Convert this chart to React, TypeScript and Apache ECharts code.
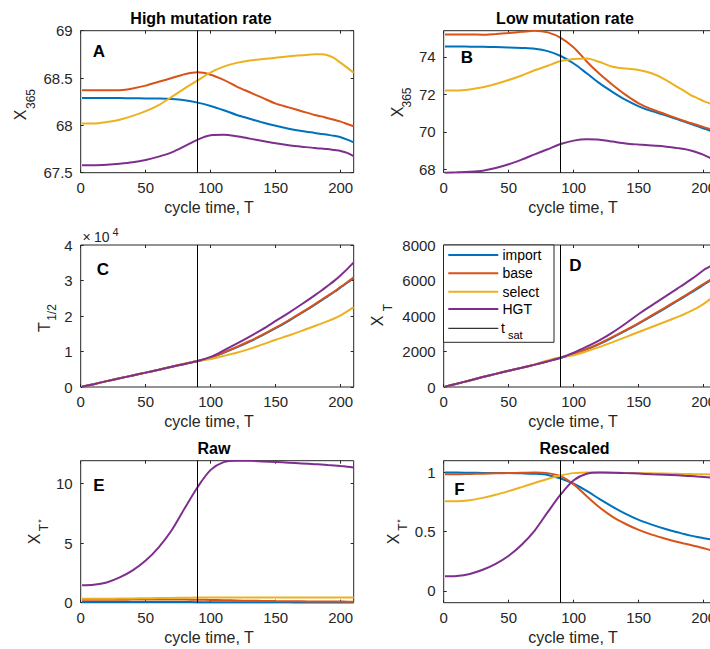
import React, { useEffect, useRef } from "react";
import * as echarts from "echarts";

// Sampling times (cycle time, T)
const T = [1, 10, 20, 30, 40, 50, 60, 70, 80, 90, 100, 110, 120, 130, 140, 150, 160, 170, 180, 185, 190, 195, 200, 205, 210];
const T_SAT = 90;

const NAMES = ["import", "base", "select", "HGT"];
const COLORS = ["#0072BD", "#D95319", "#EDB120", "#7E2F8E"];

// A: X_365, high mutation rate
const highImport = [68.29, 68.29, 68.29, 68.288, 68.287, 68.285, 68.283, 68.278, 68.265, 68.24, 68.205, 68.16, 68.11, 68.07, 68.03, 67.995, 67.965, 67.94, 67.92, 67.91, 67.9, 67.89, 67.875, 67.85, 67.82];
const highBase = [68.37, 68.37, 68.37, 68.372, 68.39, 68.42, 68.46, 68.5, 68.54, 68.56, 68.535, 68.48, 68.41, 68.35, 68.29, 68.23, 68.19, 68.15, 68.11, 68.095, 68.075, 68.06, 68.04, 68.015, 67.99];
const highSelect = [68.02, 68.02, 68.035, 68.06, 68.1, 68.15, 68.215, 68.3, 68.39, 68.475, 68.56, 68.62, 68.66, 68.685, 68.7, 68.715, 68.73, 68.74, 68.75, 68.75, 68.74, 68.71, 68.66, 68.61, 68.555];
const highHGT = [67.58, 67.58, 67.585, 67.595, 67.61, 67.635, 67.67, 67.715, 67.78, 67.85, 67.895, 67.9, 67.885, 67.86, 67.835, 67.81, 67.79, 67.775, 67.76, 67.755, 67.75, 67.74, 67.73, 67.71, 67.675];

// B: X_365, low mutation rate
const lowImport = [74.55, 74.55, 74.54, 74.53, 74.52, 74.5, 74.47, 74.43, 74.3, 74.04, 73.64, 73.12, 72.58, 72.12, 71.7, 71.36, 71.1, 70.9, 70.66, 70.54, 70.42, 70.3, 70.18, 70.06, 69.95];
const lowBase = [75.19, 75.19, 75.19, 75.18, 75.22, 75.27, 75.33, 75.39, 75.3, 75.01, 74.5, 73.75, 73.08, 72.5, 71.97, 71.52, 71.2, 70.95, 70.7, 70.58, 70.47, 70.36, 70.25, 70.15, 70.05];
const lowSelect = [72.2, 72.2, 72.26, 72.37, 72.55, 72.76, 73.0, 73.28, 73.52, 73.77, 73.88, 73.91, 73.72, 73.47, 73.37, 73.3, 73.12, 72.8, 72.38, 72.18, 71.96, 71.8, 71.64, 71.5, 71.38];
const lowHGT = [67.82, 67.84, 67.87, 67.93, 68.07, 68.27, 68.52, 68.8, 69.07, 69.35, 69.53, 69.6, 69.58, 69.48, 69.38, 69.32, 69.27, 69.22, 69.13, 69.08, 69.0, 68.9, 68.77, 68.6, 68.45];

// C: T_1/2
const halfImport = [80, 800, 1650, 2450, 3250, 4050, 4850, 5700, 6500, 7300, 8250, 9650, 11150, 12800, 14600, 16550, 18650, 20850, 23150, 24350, 25550, 26750, 28050, 29350, 30750];
const halfBase = [80, 800, 1650, 2450, 3250, 4050, 4850, 5700, 6500, 7300, 8300, 9750, 11300, 12950, 14750, 16700, 18800, 21000, 23300, 24500, 25700, 26900, 28200, 29500, 30900];
const halfSelect = [80, 800, 1650, 2450, 3250, 4050, 4850, 5720, 6650, 7350, 7900, 8750, 9650, 10750, 12000, 13300, 14500, 15800, 17200, 17850, 18550, 19300, 20200, 21300, 22500];
const halfHGT = [80, 800, 1650, 2450, 3250, 4050, 4850, 5700, 6500, 7300, 8500, 10300, 12200, 14200, 16300, 18600, 20900, 23300, 25800, 27100, 28500, 29900, 31500, 33200, 35100];

// D: X_T
const xtImport = [20, 180, 370, 560, 740, 910, 1080, 1260, 1450, 1650, 1840, 2120, 2430, 2790, 3170, 3570, 3990, 4420, 4860, 5080, 5300, 5530, 5760, 5990, 6220];
const xtBase = [20, 180, 370, 560, 740, 910, 1080, 1260, 1450, 1650, 1850, 2140, 2460, 2820, 3200, 3600, 4030, 4460, 4900, 5120, 5350, 5580, 5810, 6040, 6270];
const xtSelect = [20, 180, 370, 560, 740, 910, 1080, 1270, 1500, 1680, 1790, 2010, 2260, 2530, 2810, 3100, 3380, 3660, 3950, 4100, 4270, 4460, 4680, 4950, 5220];
const xtHGT = [20, 180, 370, 560, 740, 910, 1080, 1260, 1450, 1650, 1930, 2270, 2640, 3080, 3580, 4110, 4600, 5080, 5560, 5800, 6050, 6310, 6590, 6800, 7080];

// E: X_T*, raw
const rawImport = [0.05, 0.05, 0.05, 0.05, 0.05, 0.05, 0.05, 0.05, 0.049, 0.048, 0.045, 0.042, 0.039, 0.036, 0.033, 0.03, 0.028, 0.026, 0.025, 0.024, 0.023, 0.023, 0.022, 0.022, 0.021];
const rawBase = [0.256, 0.256, 0.257, 0.257, 0.258, 0.259, 0.259, 0.26, 0.259, 0.252, 0.234, 0.208, 0.183, 0.163, 0.147, 0.134, 0.124, 0.115, 0.107, 0.104, 0.101, 0.098, 0.094, 0.09, 0.086];
const rawSelect = [0.333, 0.333, 0.337, 0.346, 0.357, 0.371, 0.386, 0.401, 0.416, 0.429, 0.438, 0.44, 0.44, 0.44, 0.439, 0.438, 0.437, 0.436, 0.435, 0.435, 0.434, 0.434, 0.433, 0.433, 0.433];
const rawHGT = [1.46, 1.5, 1.7, 2.12, 2.71, 3.53, 4.64, 6.07, 7.91, 9.7, 11.13, 11.78, 11.9, 11.89, 11.84, 11.79, 11.73, 11.67, 11.61, 11.58, 11.54, 11.5, 11.45, 11.4, 11.34];

// F: X_T*, rescaled
const scaledImport = [1.0, 1.0, 0.998, 0.997, 0.996, 0.995, 0.993, 0.99, 0.98, 0.95, 0.905, 0.845, 0.775, 0.71, 0.65, 0.6, 0.56, 0.525, 0.495, 0.48, 0.467, 0.455, 0.445, 0.435, 0.425];
const scaledBase = [0.985, 0.985, 0.988, 0.99, 0.993, 0.996, 0.998, 1.0, 0.995, 0.97, 0.9, 0.8, 0.705, 0.625, 0.565, 0.515, 0.475, 0.443, 0.413, 0.4, 0.388, 0.375, 0.36, 0.345, 0.33];
const scaledSelect = [0.757, 0.757, 0.766, 0.786, 0.812, 0.843, 0.877, 0.912, 0.946, 0.975, 0.995, 1.0, 1.0, 0.999, 0.997, 0.995, 0.993, 0.991, 0.989, 0.988, 0.987, 0.986, 0.985, 0.984, 0.983];
const scaledHGT = [0.123, 0.126, 0.143, 0.178, 0.228, 0.297, 0.39, 0.51, 0.665, 0.815, 0.935, 0.99, 1.0, 0.999, 0.995, 0.991, 0.986, 0.981, 0.976, 0.973, 0.97, 0.966, 0.962, 0.958, 0.953];

const X_TICKS = [0, 50, 100, 150, 200];

const FONT = "'Liberation Sans', Arial, Helvetica, sans-serif";
const AXIS_COLOR = "#262626";
const PLOT_W = 273;
const PLOT_H = 142;
// The drawing surface is a little wider than the visible page; the right
// column of axes runs past the page edge and is cut off there.
const CANVAS_W = 730;
const VIEW_W = 710;
const VIEW_H = 649;

const lowAll = [...lowImport, ...lowBase, ...lowSelect, ...lowHGT];
const rawAll = [...rawImport, ...rawBase, ...rawSelect, ...rawHGT];

type Panel = {
  left: number;
  top: number;
  yMin: number;
  yMax: number;
  yTicks: number[];
  yFmt: (v: number) => string;
  series: number[][];
};

const plain = (v: number) => String(v);

const panels: Panel[] = [
  { left: 80.7, top: 30.7, yMin: 67.5, yMax: 69, yTicks: [67.5, 68, 68.5, 69], yFmt: plain, series: [highImport, highBase, highSelect, highHGT] },
  { left: 443.7, top: 30.7, yMin: Math.min(...lowAll), yMax: Math.max(...lowAll), yTicks: [68, 70, 72, 74], yFmt: plain, series: [lowImport, lowBase, lowSelect, lowHGT] },
  { left: 80.7, top: 245, yMin: 0, yMax: 40000, yTicks: [0, 10000, 20000, 30000, 40000], yFmt: (v) => String(v / 10000), series: [halfImport, halfBase, halfSelect, halfHGT] },
  { left: 443.7, top: 245, yMin: 0, yMax: 8000, yTicks: [0, 2000, 4000, 6000, 8000], yFmt: plain, series: [xtImport, xtBase, xtSelect, xtHGT] },
  { left: 80.7, top: 460.7, yMin: 0, yMax: Math.max(...rawAll), yTicks: [0, 5, 10], yFmt: plain, series: [rawImport, rawBase, rawSelect, rawHGT] },
  { left: 443.7, top: 460.7, yMin: -0.1, yMax: 1.1, yTicks: [0, 0.5, 1], yFmt: plain, series: [scaledImport, scaledBase, scaledSelect, scaledHGT] },
];

function text(
  str: string,
  x: number,
  y: number,
  size: number,
  opts: { bold?: boolean; rotate?: boolean; align?: string; color?: string } = {}
) {
  return {
    type: "text",
    x,
    y,
    z: 100,
    rotation: opts.rotate ? Math.PI / 2 : 0,
    style: {
      text: str,
      fontSize: size,
      fontFamily: FONT,
      fontWeight: opts.bold ? "bold" : "normal",
      fill: opts.color ?? (opts.bold ? "#000" : AXIS_COLOR),
      align: opts.align ?? "center",
      verticalAlign: "middle",
    },
  };
}

function buildOption() {
  const grid: any[] = [];
  const xAxis: any[] = [];
  const yAxis: any[] = [];
  const series: any[] = [];

  panels.forEach((p, i) => {
    grid.push({
      left: p.left,
      top: p.top,
      width: PLOT_W,
      height: PLOT_H,
      show: true,
      borderColor: AXIS_COLOR,
      borderWidth: 1,
      backgroundColor: "transparent",
    });
    const tick = { show: true, inside: true, length: 3, lineStyle: { color: AXIS_COLOR, width: 1 } };
    const label = { color: AXIS_COLOR, fontSize: 15, fontFamily: FONT };
    ["bottom", "top"].forEach((pos) => {
      xAxis.push({
        gridIndex: i,
        type: "value",
        min: 0,
        max: 210,
        position: pos,
        axisLine: { show: false, onZero: false },
        axisTick: { ...tick, customValues: X_TICKS },
        axisLabel: pos === "bottom" ? { ...label, margin: 7, customValues: X_TICKS, formatter: plain } : { show: false },
        splitLine: { show: false },
      });
    });
    ["left", "right"].forEach((pos) => {
      yAxis.push({
        gridIndex: i,
        type: "value",
        min: p.yMin,
        max: p.yMax,
        position: pos,
        axisLine: { show: false, onZero: false },
        axisTick: { ...tick, customValues: p.yTicks },
        axisLabel: pos === "left" ? { ...label, margin: 8, customValues: p.yTicks, formatter: p.yFmt } : { show: false },
        splitLine: { show: false },
      });
    });
    p.series.forEach((vals, k) => {
      const s: any = {
        type: "line",
        name: NAMES[k],
        xAxisIndex: 2 * i,
        yAxisIndex: 2 * i,
        data: T.map((t, j) => [t, vals[j]]),
        showSymbol: false,
        smooth: 0.3,
        lineStyle: { color: COLORS[k], width: 2 },
        itemStyle: { color: COLORS[k] },
        silent: true,
      };
      if (k === p.series.length - 1) {
        s.markLine = {
          silent: true,
          symbol: "none",
          label: { show: false },
          lineStyle: { color: "#000", width: 1, type: "solid" },
          data: [{ xAxis: T_SAT }],
        };
      }
      series.push(s);
    });
  });

  const legendRows = [255, 273.3, 291.7, 309];
  const graphic: any[] = [
    // Titles
    text("High mutation rate", 201, 18.5, 16, { bold: true }),
    text("Low mutation rate", 565, 18.5, 16, { bold: true }),
    text("Raw", 214, 448, 16, { bold: true }),
    text("Rescaled", 574.5, 448, 16, { bold: true }),
    // Panel letters
    text("A", 99, 51, 17, { bold: true }),
    text("B", 467, 57, 17, { bold: true }),
    text("C", 103, 269, 17, { bold: true }),
    text("D", 575.5, 265, 17, { bold: true }),
    text("E", 99, 485, 17, { bold: true }),
    text("F", 459.5, 489.5, 17, { bold: true }),
    // x-axis labels
    ...[207.5, 421.5, 637.5].flatMap((y) => [
      text("cycle time, T", 209, y, 16),
      text("cycle time, T", 573, y, 16),
    ]),
    // y-axis labels
    text("X", 20, 115, 16, { rotate: true }),
    text("365", 30.5, 99, 12, { rotate: true }),
    text("X", 397.3, 112, 16, { rotate: true }),
    text("365", 406.5, 97.5, 12, { rotate: true }),
    text("T", 44.3, 327, 16, { rotate: true }),
    text("1/2", 52.2, 312.5, 12, { rotate: true }),
    text("X", 377.8, 321, 16, { rotate: true }),
    text("T", 387.5, 307.5, 12, { rotate: true }),
    text("X", 34, 539, 16, { rotate: true }),
    text("T", 43.5, 527.5, 12, { rotate: true }),
    text("*", 40.5, 521, 9, { rotate: true }),
    text("X", 393, 539, 16, { rotate: true }),
    text("T", 402.5, 527, 12, { rotate: true }),
    text("*", 399.5, 521, 9, { rotate: true }),
    // Exponent of panel C's axis
    text("×", 86.7, 236.8, 14),
    text("10", 101.7, 236.8, 14),
    text("4", 115.5, 232.3, 11),
    // Legend
    {
      type: "rect",
      z: 99,
      shape: { x: 443.5, y: 245, width: 110.5, height: 97.3 },
      style: { fill: "#fff", stroke: AXIS_COLOR, lineWidth: 1 },
    },
    ...NAMES.flatMap((n, k) => [
      {
        type: "line",
        z: 100,
        shape: { x1: 448.3, y1: legendRows[k], x2: 498.3, y2: legendRows[k] },
        style: { stroke: COLORS[k], lineWidth: 2 },
      },
      text(n, 502.5, legendRows[k], 14, { align: "left", color: "#000" }),
    ]),
    {
      type: "line",
      z: 100,
      shape: { x1: 448.3, y1: 328.3, x2: 498.3, y2: 328.3 },
      style: { stroke: "#000", lineWidth: 1 },
    },
    text("t", 501, 328, 14, { align: "left", color: "#000" }),
    text("sat", 508, 334.5, 11, { align: "left", color: "#000" }),
  ];

  return {
    animation: false,
    backgroundColor: "#fff",
    grid,
    xAxis,
    yAxis,
    series,
    graphic,
  };
}

export default function App() {
  const ref = useRef<HTMLDivElement>(null);
  useEffect(() => {
    if (!ref.current) return;
    const chart = echarts.init(ref.current, undefined, { renderer: "svg" });
    chart.setOption(buildOption() as any);
    return () => chart.dispose();
  }, []);
  return (
    <div
      style={{
        position: "absolute",
        left: 0,
        top: 0,
        width: VIEW_W,
        height: VIEW_H,
        overflow: "hidden",
        background: "#fff",
      }}
    >
      <div ref={ref} style={{ width: CANVAS_W, height: VIEW_H }} />
    </div>
  );
}
